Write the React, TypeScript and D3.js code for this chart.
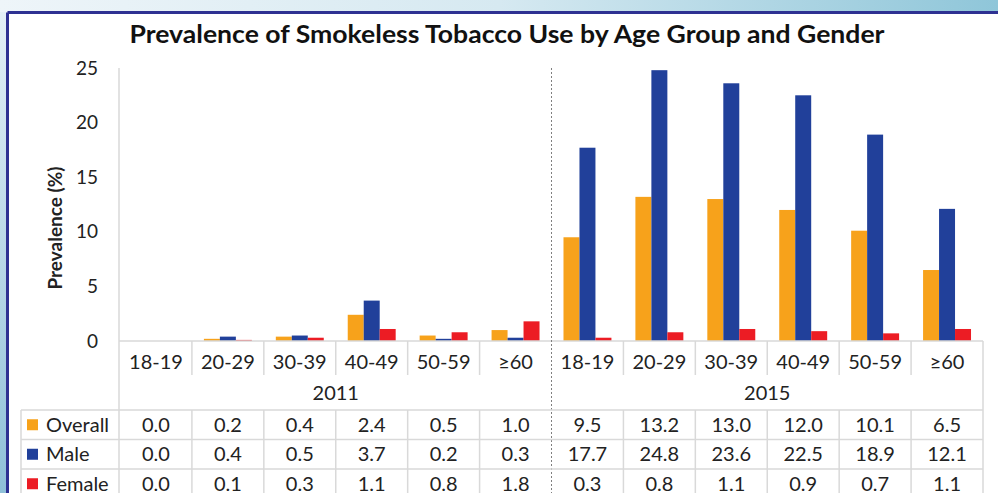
import React from "react";
import * as d3 from "d3";

// Age groups and survey years
const ageGroups = ["18-19", "20-29", "30-39", "40-49", "50-59", "≥60"];
const years = ["2011", "2015"];
const seriesNames = ["Overall", "Male", "Female"];
const seriesColors = ["#F7A21B", "#21409A", "#EC1C24"];

// Prevalence (%) per age group, by year
const overall2011 = [0.0, 0.2, 0.4, 2.4, 0.5, 1.0];
const male2011 = [0.0, 0.4, 0.5, 3.7, 0.2, 0.3];
const female2011 = [0.0, 0.1, 0.3, 1.1, 0.8, 1.8];
const overall2015 = [9.5, 13.2, 13.0, 12.0, 10.1, 6.5];
const male2015 = [17.7, 24.8, 23.6, 22.5, 18.9, 12.1];
const female2015 = [0.3, 0.8, 1.1, 0.9, 0.7, 1.1];

const yTicks = [0, 5, 10, 15, 20, 25];

const W = 998;
const H = 493;
const FONT = "Lato, 'Open Sans', sans-serif";
const TEXT = "#222222";
const GRID = "#d9d9d9";

export default function App() {
  const plotLeft = 120;
  const plotRight = 983;
  const yZero = 341;
  const yTop = 68;

  // one column per (year, age group)
  const columns = years.flatMap((yr) => ageGroups.map((g) => `${yr}|${g}`));
  const bySeries: number[][] = [
    [...overall2011, ...overall2015],
    [...male2011, ...male2015],
    [...female2011, ...female2015],
  ];

  const x = d3.scaleBand<string>().domain(columns).range([plotLeft, plotRight]).padding(0);
  const bw = x.bandwidth();
  const xs = d3.scaleBand<string>().domain(seriesNames).range([0, bw]).paddingInner(0).paddingOuter(0.75);
  const y = d3.scaleLinear().domain([0, 25]).range([yZero, yTop]);

  const boundaries = columns.map((c) => x(c) as number).concat([plotRight]);
  const groupSplit = boundaries[ageGroups.length];

  const tableTop = 410;
  const rowH = 29.5;
  const tableLeft = 21;

  return (
    <div style={{ position: "absolute", left: 0, top: 0, width: W, height: H, overflow: "hidden" }}>
      <svg width={W} height={H} viewBox={`0 0 ${W} ${H}`} style={{ display: "block" }}>
        <defs>
          <linearGradient id="topBand" x1="0" y1="0" x2="1" y2="0">
            <stop offset="0" stopColor="#eef5f9" />
            <stop offset="0.5" stopColor="#d6e9f1" />
            <stop offset="1" stopColor="#8fc6d9" />
          </linearGradient>
          <linearGradient id="leftBand" x1="0" y1="0" x2="0" y2="1">
            <stop offset="0" stopColor="#e6f1f7" />
            <stop offset="1" stopColor="#8fc0d8" />
          </linearGradient>
        </defs>

        {/* backdrop and framed panel */}
        <rect x={0} y={0} width={W} height={H} fill="url(#leftBand)" />
        <rect x={0} y={0} width={W} height={12} fill="url(#topBand)" />
        <rect x={9} y={14} width={W - 9} height={H - 14} fill="#ffffff" />
        <line x1={7.5} y1={12.5} x2={W} y2={12.5} stroke="#2e3192" strokeWidth={3} />
        <line x1={7.5} y1={12.5} x2={7.5} y2={H} stroke="#2e3192" strokeWidth={3} />

        {/* title */}
        <text
          x={507}
          y={43}
          textAnchor="middle"
          fontFamily={FONT}
          fontWeight={700}
          fontSize={24}
          fill="#111111"
          textLength={755}
          lengthAdjust="spacingAndGlyphs"
        >
          Prevalence of Smokeless Tobacco Use by Age Group and Gender
        </text>

        {/* y axis title */}
        <text
          transform={`translate(55,228) rotate(-90)`}
          textAnchor="middle"
          dy="0.35em"
          fontFamily={FONT}
          fontWeight={700}
          fontSize={19}
          fill={TEXT}
        >
          Prevalence (%)
        </text>

        {/* y tick labels */}
        {yTicks.map((t) => (
          <text
            key={t}
            x={98}
            y={y(t)}
            dy="0.35em"
            textAnchor="end"
            fontFamily={FONT}
            fontSize={19}
            fill={TEXT}
          >
            {t}
          </text>
        ))}

        {/* bars */}
        {columns.map((c, i) => (
          <g key={c}>
            {seriesNames.map((s, si) => {
              const v = bySeries[si][i];
              if (v <= 0) return null;
              return (
                <rect
                  key={s}
                  x={(x(c) as number) + (xs(s) as number)}
                  y={y(v)}
                  width={xs.bandwidth()}
                  height={yZero - y(v)}
                  fill={seriesColors[si]}
                />
              );
            })}
          </g>
        ))}

        {/* axis lines */}
        <line x1={119} y1={yTop} x2={119} y2={H} stroke={GRID} strokeWidth={1.5} />
        <line x1={119} y1={yZero} x2={plotRight} y2={yZero} stroke={GRID} strokeWidth={1.5} />
        <line x1={plotRight} y1={yZero} x2={plotRight} y2={H} stroke={GRID} strokeWidth={1.5} />

        {/* category separators */}
        {boundaries.slice(1, -1).map((bx, i) =>
          i + 1 === ageGroups.length ? null : (
            <g key={i}>
              <line x1={bx} y1={yZero} x2={bx} y2={375} stroke={GRID} strokeWidth={1.5} />
              <line x1={bx} y1={tableTop} x2={bx} y2={H} stroke={GRID} strokeWidth={1.5} />
            </g>
          )
        )}

        {/* dashed year divider */}
        <line
          x1={groupSplit}
          y1={yTop}
          x2={groupSplit}
          y2={H}
          stroke="#7f7f7f"
          strokeWidth={1}
          strokeDasharray="2,2"
        />

        {/* age group labels */}
        {columns.map((c) => (
          <text
            key={c}
            x={(x(c) as number) + bw / 2}
            y={362}
            dy="0.35em"
            textAnchor="middle"
            fontFamily={FONT}
            fontSize={20}
            fill={TEXT}
          >
            {c.split("|")[1]}
          </text>
        ))}

        {/* year labels */}
        {years.map((yr, yi) => {
          const x0 = boundaries[yi * ageGroups.length];
          const x1 = boundaries[(yi + 1) * ageGroups.length];
          return (
            <text
              key={yr}
              x={(x0 + x1) / 2}
              y={393}
              dy="0.35em"
              textAnchor="middle"
              fontFamily={FONT}
              fontSize={20}
              fill={TEXT}
            >
              {yr}
            </text>
          );
        })}

        {/* data table */}
        {[0, 1, 2, 3].map((ri) => (
          <line
            key={`h${ri}`}
            x1={tableLeft}
            y1={tableTop + ri * rowH}
            x2={plotRight}
            y2={tableTop + ri * rowH}
            stroke={GRID}
            strokeWidth={1.5}
          />
        ))}
        <line x1={tableLeft} y1={tableTop} x2={tableLeft} y2={H} stroke={GRID} strokeWidth={1.5} />

        {seriesNames.map((s, ri) => {
          const cy = tableTop + ri * rowH + rowH / 2;
          return (
            <g key={s}>
              <rect x={27} y={cy - 5.5} width={11} height={11} fill={seriesColors[ri]} />
              <text x={46} y={cy} dy="0.35em" fontFamily={FONT} fontSize={20} fill={TEXT}>
                {s}
              </text>
              {columns.map((c, ci) => (
                <text
                  key={c}
                  x={(x(c) as number) + bw / 2}
                  y={cy}
                  dy="0.35em"
                  textAnchor="middle"
                  fontFamily={FONT}
                  fontSize={20}
                  fill={TEXT}
                >
                  {bySeries[ri][ci].toFixed(1)}
                </text>
              ))}
            </g>
          );
        })}
      </svg>
    </div>
  );
}
